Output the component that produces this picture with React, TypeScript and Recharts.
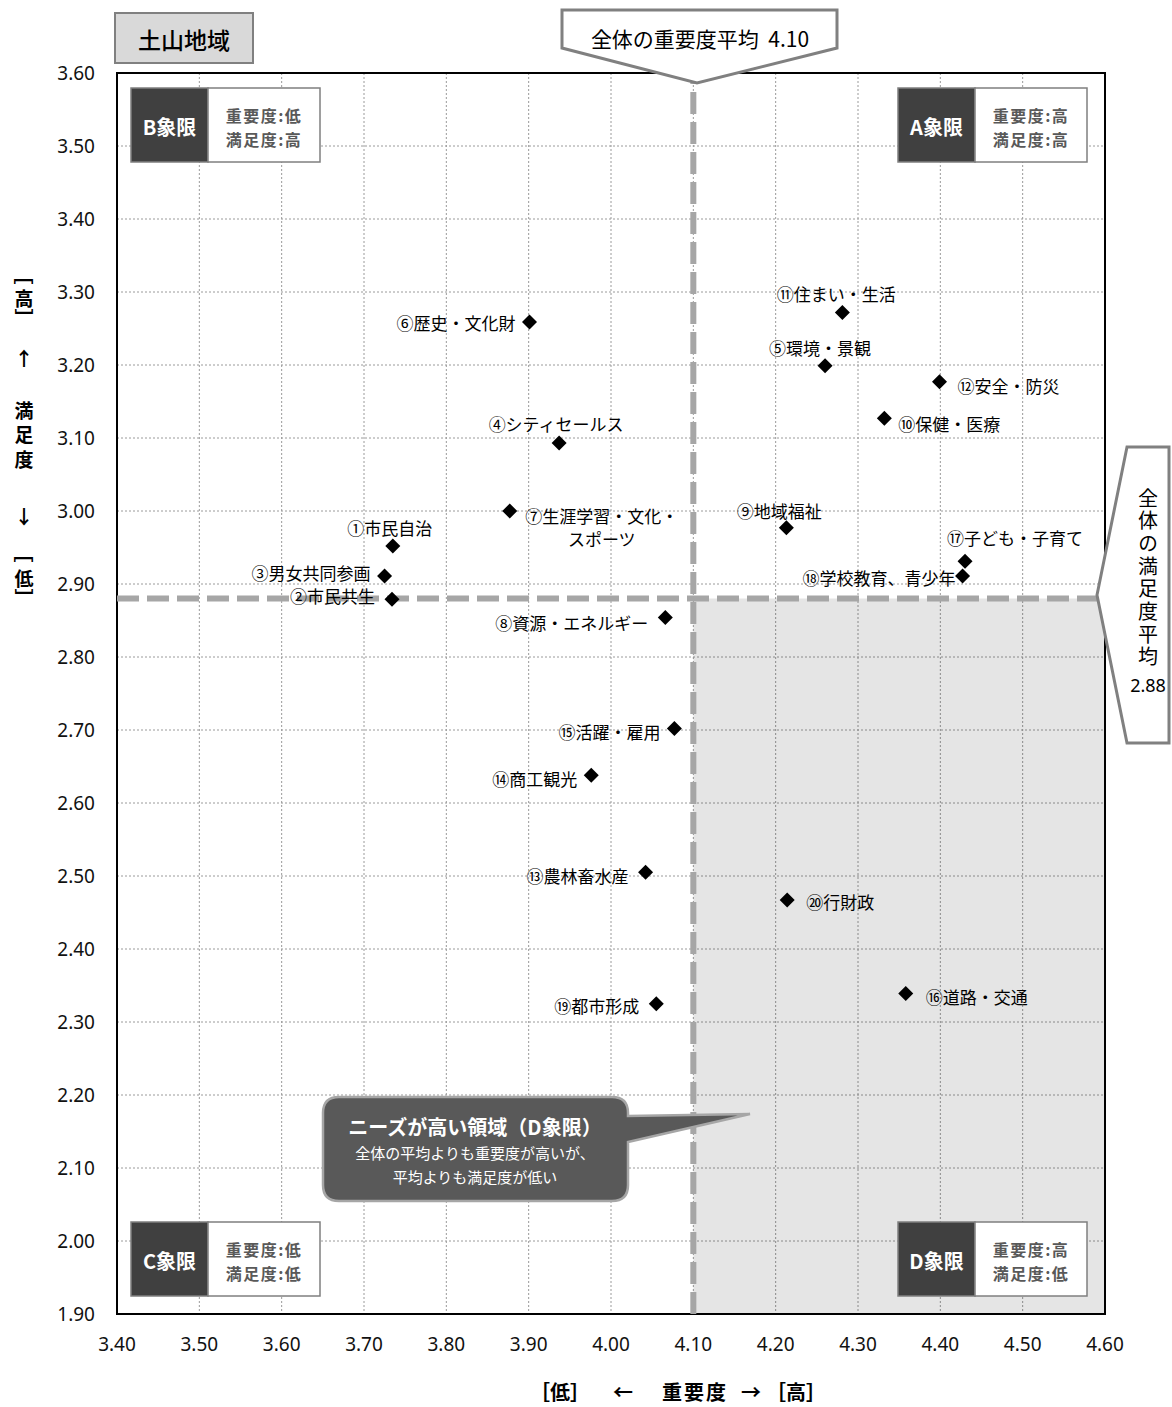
import {
  CartesianGrid,
  ReferenceArea,
  ReferenceLine,
  Scatter,
  ScatterChart,
  XAxis,
  YAxis,
} from "recharts";

const regionName = "土山地域";

const names = [
  "①市民自治",
  "②市民共生",
  "③男女共同参画",
  "④シティセールス",
  "⑤環境・景観",
  "⑥歴史・文化財",
  "⑦生涯学習・文化・\nスポーツ",
  "⑧資源・エネルギー",
  "⑨地域福祉",
  "⑩保健・医療",
  "⑪住まい・生活",
  "⑫安全・防災",
  "⑬農林畜水産",
  "⑭商工観光",
  "⑮活躍・雇用",
  "⑯道路・交通",
  "⑰子ども・子育て",
  "⑱学校教育、青少年",
  "⑲都市形成",
  "⑳行財政",
];

// 重要度 (x)
const importance = [
  3.735, 3.734, 3.725, 3.937, 4.26, 3.901, 3.877, 4.066, 4.213, 4.332,
  4.281, 4.399, 4.042, 3.976, 4.077, 4.358, 4.43, 4.427, 4.055, 4.214,
];

// 満足度 (y)
const satisfaction = [
  2.952, 2.879, 2.911, 3.093, 3.199, 3.259, 3.0, 2.854, 2.977, 3.127,
  3.272, 3.177, 2.505, 2.638, 2.702, 2.339, 2.931, 2.911, 2.325, 2.467,
];

const importanceMean = 4.1;
const satisfactionMean = 2.88;

const xTicks = [3.4, 3.5, 3.6, 3.7, 3.8, 3.9, 4.0, 4.1, 4.2, 4.3, 4.4, 4.5, 4.6];
const yTicks = [
  1.9, 2.0, 2.1, 2.2, 2.3, 2.4, 2.5, 2.6, 2.7, 2.8, 2.9, 3.0, 3.1, 3.2, 3.3,
  3.4, 3.5, 3.6,
];

// label placement next to each marker: anchor, dx, dy
const labelOffsets: [string, number, number][] = [
  ["middle", -3, -19],
  ["end", -17, -4],
  ["end", -14, -4],
  ["middle", -3, -20],
  ["middle", -5, -19],
  ["end", -14, 0],
  ["middle", 92, 4],
  ["end", -17, 4],
  ["middle", -7, -18],
  ["start", 14, 5],
  ["middle", -6, -19],
  ["start", 18, 3],
  ["end", -17, 3],
  ["end", -14, 3],
  ["end", -14, 2],
  ["start", 20, 2],
  ["start", -18, -24],
  ["end", -7, 1],
  ["end", -17, 1],
  ["start", 19, 1],
];

const JP = '"Noto Sans CJK JP", "Noto Sans", sans-serif';
const NUM = '"Noto Sans", "Noto Sans CJK JP", sans-serif';

const chartData = names.map((name, i) => ({
  name,
  x: importance[i],
  y: satisfaction[i],
  label: labelOffsets[i],
}));

function PointMark(props: any) {
  const { cx, cy, payload } = props;
  const [anchor, dx, dy] = payload.label;
  const lines: string[] = payload.name.split("\n");
  const h = 7.5;
  return (
    <g>
      <polygon
        points={`${cx},${cy - h} ${cx + h},${cy} ${cx},${cy + h} ${cx - h},${cy}`}
        fill="#000"
      />
      <text
        x={cx + dx}
        y={cy + dy}
        textAnchor={anchor}
        dominantBaseline="central"
        fontSize={17}
        fontFamily={JP}
        fill="#000"
      >
        {lines.map((l, i) => (
          <tspan key={i} x={cx + dx} dy={i === 0 ? 0 : 23}>
            {l}
          </tspan>
        ))}
      </text>
    </g>
  );
}

function QuadBox({ x, y, letter, imp, sat }: any) {
  return (
    <g fontFamily={JP} fontWeight="bold">
      <rect x={x} y={y} width={77} height={74} fill="#404040" stroke="#7f7f7f" strokeWidth={1.5} />
      <rect x={x + 77} y={y} width={112} height={74} fill="#fff" stroke="#7f7f7f" strokeWidth={1.5} />
      <text x={x + 38.5} y={y + 38} textAnchor="middle" dominantBaseline="central" fill="#fff" fontSize={20}>
        {letter}象限
      </text>
      <text x={x + 133} y={y + 27} textAnchor="middle" dominantBaseline="central" fill="#595959" fontSize={16} letterSpacing={1.5}>
        重要度:{imp}
      </text>
      <text x={x + 133} y={y + 51} textAnchor="middle" dominantBaseline="central" fill="#595959" fontSize={16} letterSpacing={1.5}>
        満足度:{sat}
      </text>
    </g>
  );
}

function Overlay() {
  const r = 16;
  const bx0 = 323, bx1 = 628, by0 = 1097, by1 = 1201;
  const bubble = [
    `M${bx0 + r},${by0}`,
    `H${bx1 - r}`,
    `Q${bx1},${by0} ${bx1},${by0 + r}`,
    `L${bx1},${by0 + 19}`,
    `L750,1114`,
    `L${bx1},${by0 + 45}`,
    `V${by1 - r}`,
    `Q${bx1},${by1} ${bx1 - r},${by1}`,
    `H${bx0 + r}`,
    `Q${bx0},${by1} ${bx0},${by1 - r}`,
    `V${by0 + r}`,
    `Q${bx0},${by0} ${bx0 + r},${by0}`,
    "Z",
  ].join(" ");
  const yTitle: [string, number, boolean][] = [
    ["［", 275, true],
    ["高", 297, false],
    ["］", 318, true],
    ["↑", 357, false],
    ["↓", 515, false],
    ["［", 553, true],
    ["低", 577, false],
    ["］", 598, true],
  ];
  return (
    <svg
      width={1172}
      height={1407}
      style={{ position: "absolute", left: 0, top: 0, pointerEvents: "none" }}
    >
      {/* region title */}
      <rect x={115} y={13} width={138} height={50} fill="#d9d9d9" stroke="#808080" strokeWidth={2} />
      <text x={184} y={39} textAnchor="middle" dominantBaseline="central" fontSize={23} fontFamily={JP} fontWeight={500} fill="#000">
        {regionName}
      </text>

      {/* importance average callout */}
      <path d="M562,10 L837,10 L837,48 L697,83 L562,48 Z" fill="#fff" stroke="#808080" strokeWidth={3} />
      <text x={700} y={38} textAnchor="middle" dominantBaseline="central" fontSize={21} fontFamily={JP} fill="#000">
        全体の重要度平均&#160;&#160;{importanceMean.toFixed(2)}
      </text>

      {/* satisfaction average callout */}
      <path d="M1097,595 L1127,447 L1169,447 L1169,743 L1127,743 Z" fill="#fff" stroke="#808080" strokeWidth={3} />
      <text
        x={1148}
        y={488}
        fontSize={20}
        fontFamily={JP}
        fill="#000"
        letterSpacing={2.7}
        style={{ writingMode: "vertical-rl" }}
      >
        全体の満足度平均
      </text>
      <text x={1148} y={685} textAnchor="middle" dominantBaseline="central" fontSize={18} fontFamily={NUM} fill="#000">
        {satisfactionMean.toFixed(2)}
      </text>

      {/* quadrant labels */}
      <QuadBox x={131} y={88} letter="B" imp="低" sat="高" />
      <QuadBox x={898} y={88} letter="A" imp="高" sat="高" />
      <QuadBox x={131} y={1222} letter="C" imp="低" sat="低" />
      <QuadBox x={898} y={1222} letter="D" imp="高" sat="低" />

      {/* D quadrant note */}
      <path d={bubble} fill="#595959" stroke="#a6a6a6" strokeWidth={2.5} />
      <text x={475} y={1126} textAnchor="middle" dominantBaseline="central" fontSize={20} fontWeight="bold" fontFamily={JP} fill="#fff">
        ニーズが高い領域（D象限）
      </text>
      <text x={475} y={1152} textAnchor="middle" dominantBaseline="central" fontSize={15} fontFamily={JP} fill="#fff">
        全体の平均よりも重要度が高いが、
      </text>
      <text x={475} y={1176} textAnchor="middle" dominantBaseline="central" fontSize={15} fontFamily={JP} fill="#fff">
        平均よりも満足度が低い
      </text>

      {/* y axis title */}
      {yTitle.map(([c, y, rot], i) =>
        rot ? (
          <text key={i} transform={`translate(24,${y}) rotate(90)`} textAnchor="middle" dominantBaseline="central" fontSize={19} fontWeight="bold" fontFamily={JP} fill="#000">
            {c}
          </text>
        ) : (
          <text key={i} x={24} y={y} textAnchor="middle" dominantBaseline="central" fontSize={19} fontWeight="bold" fontFamily={JP} fill="#000">
            {c}
          </text>
        )
      )}
      <text
        x={24}
        y={401}
        fontSize={19}
        fontWeight="bold"
        fontFamily={JP}
        fill="#000"
        letterSpacing={5.5}
        style={{ writingMode: "vertical-rl" }}
      >
        満足度
      </text>

      {/* x axis title */}
      <g fontSize={20} fontWeight="bold" fontFamily={JP} fill="#000">
        <text x={560} y={1391} textAnchor="middle" dominantBaseline="central">［低］</text>
        <text x={623} y={1391} textAnchor="middle" dominantBaseline="central">←</text>
        <text x={695} y={1391} textAnchor="middle" dominantBaseline="central" letterSpacing={2}>重要度</text>
        <text x={751} y={1391} textAnchor="middle" dominantBaseline="central">→</text>
        <text x={796} y={1391} textAnchor="middle" dominantBaseline="central">［高］</text>
      </g>
    </svg>
  );
}

export default function App() {
  return (
    <div style={{ position: "absolute", left: 0, top: 0, width: 1172, height: 1407, background: "#fff" }}>
      <ScatterChart
        width={1172}
        height={1407}
        margin={{ top: 73, right: 67, bottom: 53, left: 57 }}
      >
        <CartesianGrid stroke="#9a9a9a" strokeDasharray="2 2" />
        <XAxis
          type="number"
          dataKey="x"
          domain={[3.4, 4.6]}
          ticks={xTicks}
          interval={0}
          tickFormatter={(v: number) => v.toFixed(2)}
          axisLine={false}
          tickLine={false}
          tickSize={0}
          tickMargin={24}
          height={40}
          tick={{ fontSize: 19, fill: "#111", fontFamily: NUM }}
        />
        <YAxis
          type="number"
          dataKey="y"
          domain={[1.9, 3.6]}
          ticks={yTicks}
          interval={0}
          tickFormatter={(v: number) => v.toFixed(2)}
          axisLine={false}
          tickLine={false}
          tickSize={0}
          tickMargin={22}
          width={60}
          tick={{ fontSize: 19, fill: "#111", fontFamily: NUM }}
        />
        <ReferenceArea
          x1={importanceMean}
          x2={4.6}
          y1={1.9}
          y2={satisfactionMean}
          fill="#000"
          fillOpacity={0.1}
          stroke="none"
        />
        <ReferenceArea
          x1={3.4}
          x2={4.6}
          y1={1.9}
          y2={3.6}
          fill="none"
          stroke="#000"
          strokeWidth={2}
        />
        <ReferenceLine x={importanceMean} stroke="#a6a6a6" strokeWidth={6} strokeDasharray="22 8" />
        <ReferenceLine y={satisfactionMean} stroke="#a6a6a6" strokeWidth={6} strokeDasharray="22 8" />
        <Scatter data={chartData} shape={PointMark} isAnimationActive={false} />
      </ScatterChart>
      <Overlay />
    </div>
  );
}
